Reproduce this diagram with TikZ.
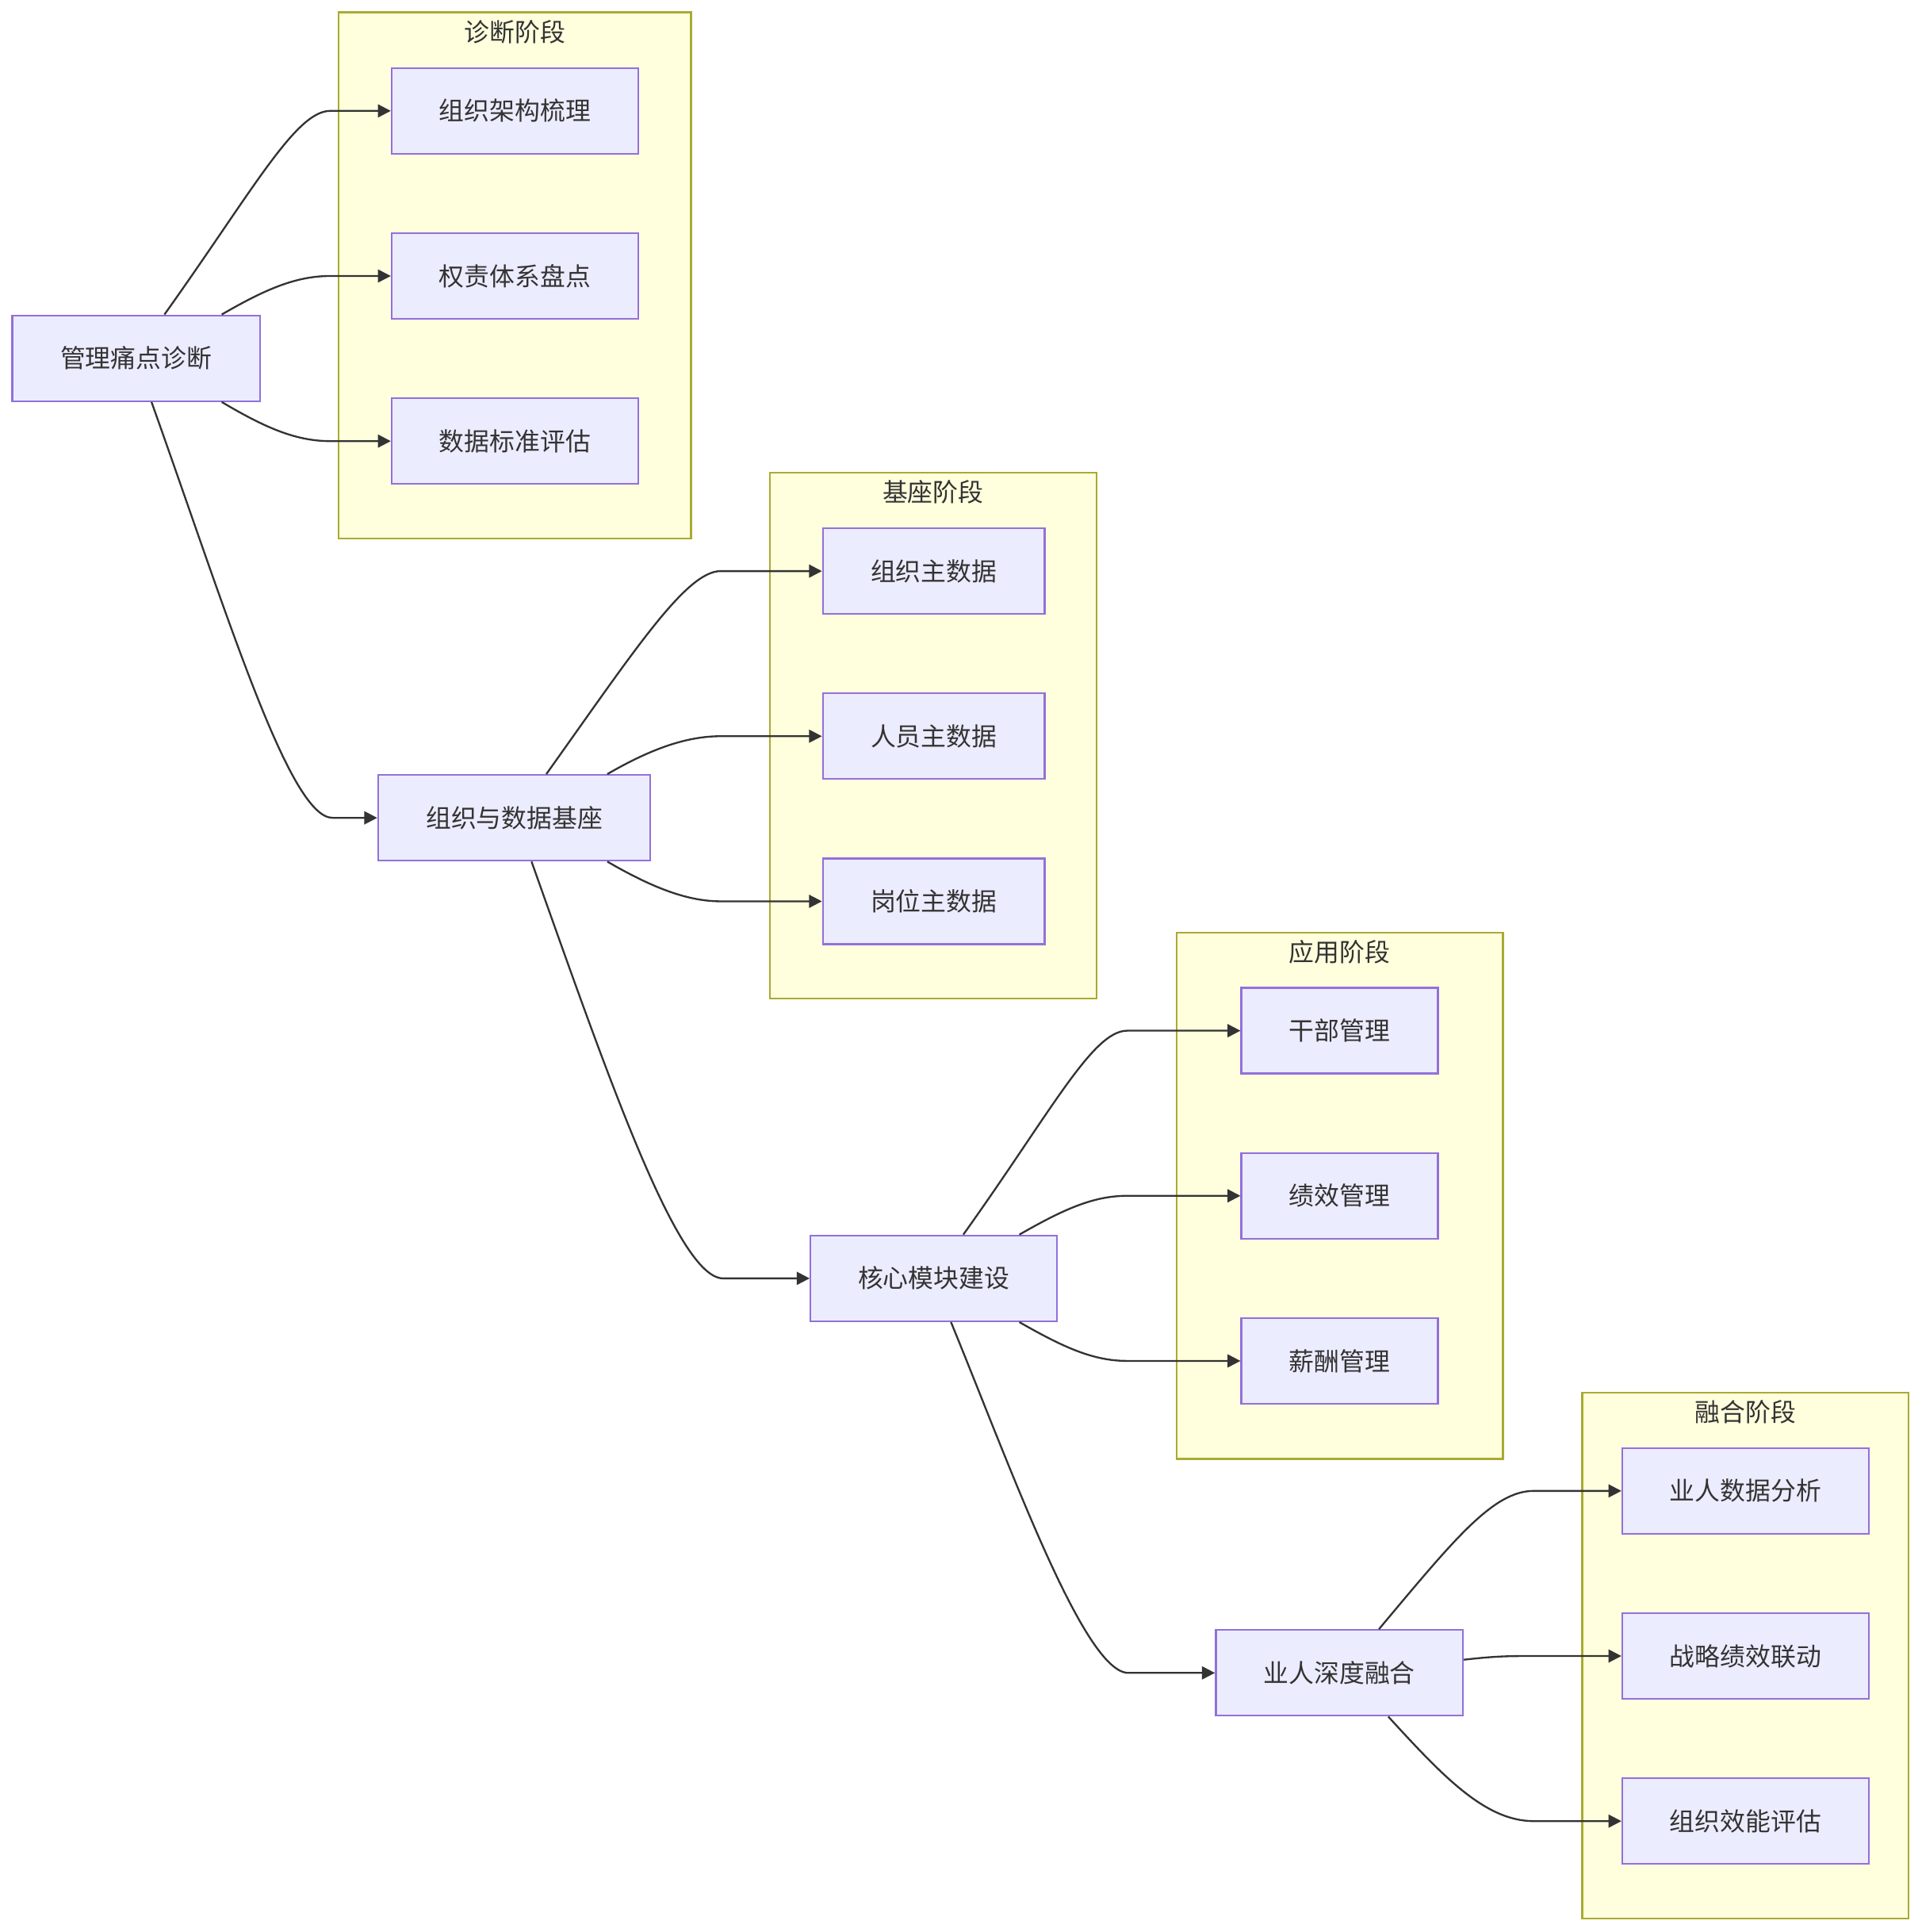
\documentclass[tikz,border=0pt]{standalone}
\usepackage{fontspec}
\newfontfamily\cjk{Noto Sans CJK SC}
\usetikzlibrary{arrows.meta}
\definecolor{boxfill}{HTML}{ECECFF}
\definecolor{boxline}{HTML}{9370DB}
\definecolor{clfill}{HTML}{FFFFDE}
\definecolor{clline}{HTML}{AAAA33}
\definecolor{ink}{HTML}{333333}
\begin{document}
\begin{tikzpicture}[x=1pt,y=-1pt,
  box/.style={draw=boxline,fill=boxfill,line width=1.5pt,minimum height=69.5pt,inner sep=0pt,text=ink,font=\cjk\fontsize{20.5}{24}\selectfont},
  cluster/.style={draw=clline,fill=clfill,line width=1.5pt,inner sep=0pt},
  ctitle/.style={text=ink,inner sep=0pt,font=\cjk\fontsize{20.5}{24}\selectfont},
  edge/.style={draw=ink,line width=1.5pt,-{Triangle[length=10.5pt,width=10.5pt]}}]
\fill[white] (0,0) rectangle (1560,1568);
\useasboundingbox (0,0) rectangle (1560,1568);
% clusters
\node[cluster,minimum width=286pt,minimum height=427pt] (g1) at (418,223.5) {};
\node[cluster,minimum width=265pt,minimum height=427pt] (g2) at (757.5,597) {};
\node[cluster,minimum width=265pt,minimum height=427pt] (g3) at (1087.5,970.5) {};
\node[cluster,minimum width=265pt,minimum height=426.5pt] (g4) at (1417,1343.75) {};
\node[ctitle] (g1t) at (418,26) {诊断阶段};
\node[ctitle] (g2t) at (757.5,399) {基座阶段};
\node[ctitle] (g3t) at (1087.5,772.5) {应用阶段};
\node[ctitle] (g4t) at (1417,1146) {融合阶段};
% boxes
\node[box,minimum width=201pt] (n0) at (110.5,290.75) {管理痛点诊断};
\node[box,minimum width=200pt] (a1) at (418,90) {组织架构梳理};
\node[box,minimum width=200pt] (a2) at (418,224) {权责体系盘点};
\node[box,minimum width=200pt] (a3) at (418,358) {数据标准评估};
\node[box,minimum width=221pt] (n1) at (417.5,663.75) {组织与数据基座};
\node[box,minimum width=180pt] (b1) at (758,463.5) {组织主数据};
\node[box,minimum width=180pt] (b2) at (758,597.5) {人员主数据};
\node[box,minimum width=180pt] (b3) at (758,731.5) {岗位主数据};
\node[box,minimum width=200pt] (n2) at (758,1037.5) {核心模块建设};
\node[box,minimum width=159.5pt] (c1) at (1087.5,836.5) {干部管理};
\node[box,minimum width=159.5pt] (c2) at (1087.5,970.5) {绩效管理};
\node[box,minimum width=159.5pt] (c3) at (1087.5,1104.5) {薪酬管理};
\node[box,minimum width=200.6pt] (n3) at (1087.3,1357.7) {业人深度融合};
\node[box,minimum width=200pt] (d1) at (1417,1210) {业人数据分析};
\node[box,minimum width=200pt] (d2) at (1417,1344) {战略绩效联动};
\node[box,minimum width=200pt] (d3) at (1417,1478) {组织效能评估};
% stage 1 edges
\draw[edge] ([xshift=23pt]n0.north) .. controls (205,155) and (240,90) .. (268,90) -- (a1.west);
\draw[edge] ([xshift=69.5pt]n0.north) .. controls (215,235) and (240,224) .. (268,224) -- (a2.west);
\draw[edge] ([xshift=69.5pt]n0.south) .. controls (215,347) and (240,358) .. (268,358) -- (a3.west);
\draw[edge] ([xshift=12.5pt]n0.south) .. controls (185,500) and (235,663.75) .. (270,663.75) -- (n1.west);
% stage 2 edges
\draw[edge] ([xshift=26pt]n1.north) .. controls (515,528) and (557,463.5) .. (585,463.5) -- (b1.west);
\draw[edge] ([xshift=75.5pt]n1.north) .. controls (528,608) and (557,597.5) .. (585,597.5) -- (b2.west);
\draw[edge] ([xshift=75.5pt]n1.south) .. controls (528,719.5) and (557,731.5) .. (585,731.5) -- (b3.west);
\draw[edge] ([xshift=14pt]n1.south) .. controls (493.5,873.5) and (550,1037.5) .. (587,1037.5) -- (n2.west);
% stage 3 edges
\draw[edge] ([xshift=24pt]n2.north) .. controls (853.5,902) and (887,836.5) .. (915,836.5) -- (c1.west);
\draw[edge] ([xshift=69.5pt]n2.north) .. controls (862.5,982) and (887,970.5) .. (915,970.5) -- (c2.west);
\draw[edge] ([xshift=69.5pt]n2.south) .. controls (862.5,1093) and (887,1104.5) .. (915,1104.5) -- (c3.west);
\draw[edge] ([xshift=14pt]n2.south) .. controls (820,1190) and (880,1357.7) .. (916,1357.7) -- (n3.west);
% stage 4 edges
\draw[edge] ([xshift=32.1pt]n3.north) .. controls (1180,1250) and (1212,1210) .. (1245,1210) -- (d1.west);
\draw[edge] ([yshift=10.7pt]n3.east) .. controls (1215,1344) and (1225,1344) .. (1245,1344) -- (d2.west);
\draw[edge] ([xshift=39.7pt]n3.south) .. controls (1170,1440) and (1205,1478) .. (1245,1478) -- (d3.west);
\end{tikzpicture}
\end{document}
